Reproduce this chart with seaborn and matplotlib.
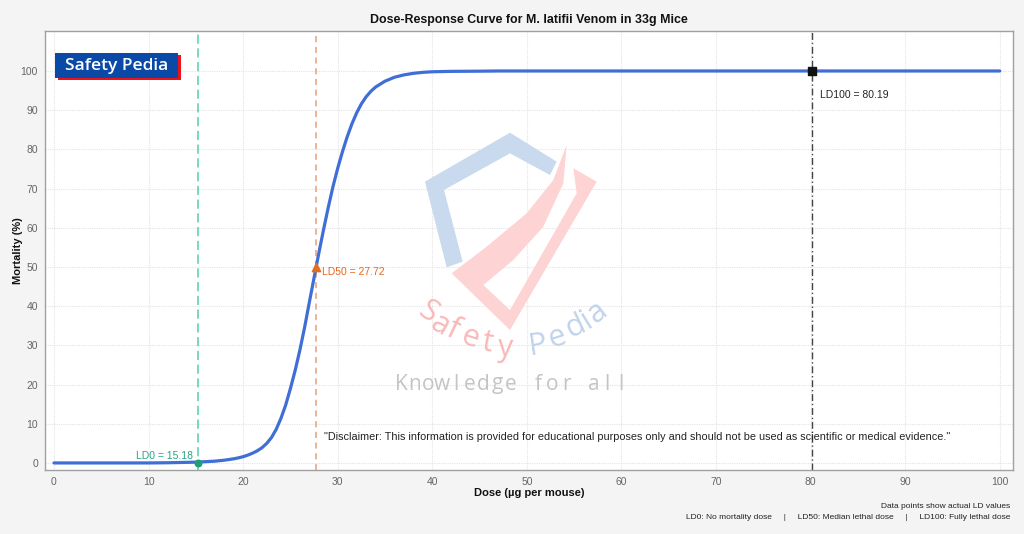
import numpy as np
import pandas as pd
import seaborn as sns
import matplotlib.pyplot as plt
from matplotlib.patches import Polygon, Rectangle

# dose-response curve
dose = [0, 5, 10, 12, 15, 17, 18, 19, 19.5, 20, 20.5, 21, 21.5, 22, 22.5, 23, 23.5, 24, 24.5,
        25, 25.5, 26, 26.5, 27, 27.72, 28, 28.5, 29, 29.5, 30, 30.5, 31, 31.5, 32, 32.5, 33,
        33.5, 34, 35, 36, 37, 38, 39, 40, 42, 45, 47, 50, 60, 70, 80, 90, 100]
mortality = [0, 0, 0, 0.05, 0.2, 0.45, 0.7, 1.05, 1.3, 1.6, 2.0, 2.5, 3.1, 3.9, 5.0, 6.5, 8.6, 11.4, 14.8,
             19.0, 23.6, 28.8, 34.6, 41.0, 50, 53.5, 59.5, 65.2, 70.5, 75.2, 79.4, 83.2, 86.5, 89.3, 91.6, 93.4,
             94.8, 95.9, 97.4, 98.4, 99.0, 99.4, 99.65, 99.8, 99.9, 99.95, 100, 100, 100, 100, 100, 100, 100]

# LD points
ld_names = ['LD0', 'LD50', 'LD100']
ld_dose = [15.18, 27.72, 80.19]
ld_mort = [0, 50, 100]

x_ticks = list(range(0, 101, 10))
y_ticks = list(range(0, 101, 10))

df = pd.DataFrame({'dose': dose, 'mortality': mortality})

sns.set_theme(style='whitegrid')
plt.rcParams['font.family'] = ['Liberation Sans', 'DejaVu Sans']

fig = plt.figure(figsize=(10.24, 5.34), dpi=100, facecolor='#f4f4f4')
ax = fig.add_axes([45/1024, 1 - 470/534, (1013 - 45)/1024, (470 - 31)/534])
ax.set_facecolor('white')


def fp(x, y):
    # image pixel -> figure fraction (decoration only)
    return (x / 1024, 1 - y / 534)


def zp(zx, zy):
    return fp(300 + zx / 3, 130 + zy / 3)


# watermark shield
blue_pts = [(440, 412), (375, 155), (630, 8), (770, 95), (750, 135), (630, 70), (432, 180), (488, 395)]
pink_pts = [(455, 430), (560, 350), (680, 250), (760, 150), (800, 45), (790, 160), (730, 290),
            (640, 390), (550, 465), (630, 540), (830, 190), (820, 115), (890, 155), (630, 600)]
ax.add_patch(Polygon([zp(*p) for p in blue_pts], closed=True, transform=fig.transFigure,
                     facecolor='#c9d9ee', edgecolor='none', zorder=1))
ax.add_patch(Polygon([zp(*p) for p in pink_pts], closed=True, transform=fig.transFigure,
                     facecolor='#fdd3d3', edgecolor='none', zorder=1))

wm_letters = [('S', 428, 312, -35, '#f9b8b8'), ('a', 440, 325, -30, '#f9b8b8'),
              ('f', 453, 330, -25, '#f9b8b8'), ('e', 470, 338, -18, '#f9b8b8'),
              ('t', 487, 343, -10, '#f9b8b8'), ('y', 505, 348, -3, '#f9b8b8'),
              ('P', 538, 346, 8, '#c0d3eb'), ('e', 557, 338, 18, '#c0d3eb'),
              ('d', 575, 327, 25, '#c0d3eb'), ('i', 587, 320, 32, '#c0d3eb'),
              ('a', 597, 312, 38, '#c0d3eb')]
for ch, px, py, rot, col in wm_letters:
    fx, fy = fp(px, py)
    fig.text(fx, fy, ch, fontsize=22, color=col, rotation=rot, ha='center', va='center',
             family=['Open Sans', 'DejaVu Sans'], zorder=1)

tagline = 'Knowledge for all'
for i, ch in enumerate(tagline):
    fx, fy = fp(401 + i * (220 / 16), 384)
    fig.text(fx, fy, ch, fontsize=15, color='#c4c4c4', ha='center', va='center',
             family=['Open Sans', 'DejaVu Sans'], zorder=1)

# curve
sns.lineplot(data=df, x='dose', y='mortality', ax=ax, color='#3f6fd6', linewidth=2.3,
             errorbar=None, zorder=3)

# LD lines, markers and labels
ax.axvline(ld_dose[0], color='#4fcfae', linestyle=(0, (6, 3)), linewidth=1.1, zorder=2)
ax.axvline(ld_dose[1], color='#e6a079', linestyle=(0, (4, 3)), linewidth=1.1, zorder=2)
ax.axvline(ld_dose[2], color='#444444', linestyle=(0, (5, 2, 1, 2)), linewidth=1.0, zorder=2)

ax.scatter([ld_dose[0]], [ld_mort[0]], marker='o', s=22, color='#1f9e77', zorder=5)
ax.scatter([ld_dose[1]], [ld_mort[1]], marker='^', s=36, color='#e0701f', zorder=5)
ax.scatter([ld_dose[2]], [ld_mort[2]], marker='s', s=26, color='#111111', zorder=5)

ax.text(ld_dose[0] - 0.5, ld_mort[0] + 0.6, f'{ld_names[0]} = {ld_dose[0]:.2f}', color='#27a487',
        fontsize=7.5, ha='right', va='bottom', zorder=6)
ax.text(ld_dose[1] + 0.6, ld_mort[1] - 1.3, f'{ld_names[1]} = {ld_dose[1]:.2f}', color='#e8661c',
        fontsize=7.5, ha='left', va='center', zorder=6)
ax.text(ld_dose[2] + 0.8, ld_mort[2] - 6.1, f'{ld_names[2]} = {ld_dose[2]:.2f}', color='#222222',
        fontsize=7.5, ha='left', va='center', zorder=6)

ax.text(28.5, 6.7, '"Disclaimer: This information is provided for educational purposes only and '
        'should not be used as scientific or medical evidence."', fontsize=7.8, color='#222222',
        ha='left', va='center', zorder=6)

# axes styling
ax.set_xlim(-0.95, 101.4)
ax.set_ylim(-1.8, 110.2)
ax.set_xticks(x_ticks)
ax.set_yticks(y_ticks)
ax.grid(True, color='#e4e4e4', linestyle=(0, (1, 1)), linewidth=0.8)
ax.tick_params(axis='both', labelsize=7.5, labelcolor='#666666', length=2, color='#999999', pad=3)
for sp in ax.spines.values():
    sp.set_color('#a0a0a0')
    sp.set_linewidth(1.0)

ax.set_xlabel('Dose (µg per mouse)', fontsize=8, fontweight='bold', color='#111111', labelpad=1)
ax.set_ylabel('Mortality (%)', fontsize=8, fontweight='bold', color='#111111')
ax.yaxis.set_label_coords(-0.0225, 0.5)
ax.set_title('Dose-Response Curve for M. latifii Venom in 33g Mice', fontsize=8.9,
             fontweight='bold', color='#111111', pad=6)

# logo box top-left
ax.add_patch(Rectangle(fp(58, 80), 123 / 1024, 25 / 534, transform=fig.transFigure,
                       facecolor='#e8141c', edgecolor='none', zorder=7))
ax.add_patch(Rectangle(fp(55, 78), 123 / 1024, 25 / 534, transform=fig.transFigure,
                       facecolor='#0a4aa6', edgecolor='none', zorder=8))
lx, ly = fp(116.5, 65.5)
fig.text(lx, ly, 'Safety Pedia', fontsize=12.5, color='white', fontweight='semibold',
         ha='center', va='center', family=['Open Sans', 'DejaVu Sans'], zorder=9)

# footer notes
fig.text(1010 / 1024, 1 - 506.5 / 534, 'Data points show actual LD values', fontsize=6,
         color='#222222', ha='right', va='center')
fig.text(1010 / 1024, 1 - 517.5 / 534,
         'LD0: No mortality dose     |     LD50: Median lethal dose     |     LD100: Fully lethal dose',
         fontsize=6, color='#222222', ha='right', va='center')

fig.savefig('out.png', dpi=100, facecolor=fig.get_facecolor())
